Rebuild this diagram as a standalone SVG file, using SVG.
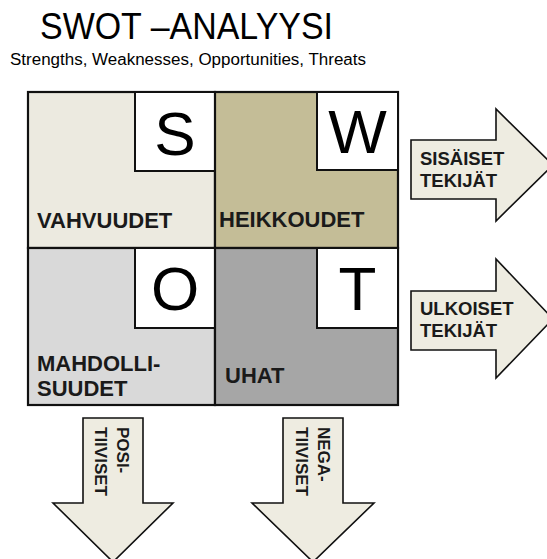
<svg xmlns="http://www.w3.org/2000/svg" width="547" height="559" viewBox="0 0 547 559">
  <style>
    .title { font-family: "Liberation Sans", Arial, sans-serif; fill: #000; }
    .lbl { font-family: "Liberation Sans", Arial, sans-serif; font-weight: bold; fill: #1a1a1a; }
    .cell { stroke: #111; stroke-width: 2.2; }
    .box { fill: #fff; stroke: #111; stroke-width: 2; }
    .letter { font-family: "Liberation Sans", Arial, sans-serif; font-size: 62px; fill: #000; text-anchor: middle; }
    .arrow { fill: #EEECE1; stroke: #111; stroke-width: 1.6; stroke-linejoin: miter; }
  </style>

  <!-- heading -->
  <g id="title">
    <text class="title" x="40" y="39" font-size="36" textLength="293" lengthAdjust="spacingAndGlyphs">SWOT –ANALYYSI</text>
    <text class="title" x="10" y="64.5" font-size="16" textLength="356" lengthAdjust="spacingAndGlyphs">Strengths, Weaknesses, Opportunities, Threats</text>
  </g>

  <!-- four quadrants -->
  <g id="strengths">
    <rect class="cell" x="28" y="92" width="187" height="156" fill="#ECEAE0"/>
    <rect class="box" x="135" y="92" width="80" height="79"/>
    <text class="letter" x="175" y="155">S</text>
    <text class="lbl" x="37" y="228" font-size="22">VAHVUUDET</text>
  </g>
  <g id="weaknesses">
    <rect class="cell" x="215" y="92" width="183" height="156" fill="#C4BD97"/>
    <rect class="box" x="317" y="92" width="81" height="78"/>
    <text class="letter" x="357.5" y="153">W</text>
    <text class="lbl" x="219" y="227" font-size="22">HEIKKOUDET</text>
  </g>
  <g id="opportunities">
    <rect class="cell" x="28" y="248" width="187" height="157" fill="#D9D9D9"/>
    <rect class="box" x="135" y="248" width="80" height="80"/>
    <text class="letter" x="175" y="310">O</text>
    <text class="lbl" x="37" y="371" font-size="22">MAHDOLLI-</text>
    <text class="lbl" x="37" y="396" font-size="22">SUUDET</text>
  </g>
  <g id="threats">
    <rect class="cell" x="215" y="248" width="183" height="157" fill="#A6A6A6"/>
    <rect class="box" x="317" y="248" width="81" height="80"/>
    <text class="letter" x="357.5" y="310">T</text>
    <text class="lbl" x="225" y="383" font-size="22">UHAT</text>
  </g>

  <!-- block arrows -->
  <g id="connectors">
    <g id="arrow-internal">
      <path class="arrow" d="M411,140 H496 V109 L553,165 L496,221 V199 H411 Z"/>
      <text class="lbl" x="420" y="165" font-size="18.5">SISÄISET</text>
      <text class="lbl" x="420" y="187" font-size="18.5">TEKIJÄT</text>
    </g>
    <g id="arrow-external">
      <path class="arrow" d="M411,291 H496 V259 L553,319 L496,378 V350 H411 Z"/>
      <text class="lbl" x="420" y="315" font-size="18.5">ULKOISET</text>
      <text class="lbl" x="420" y="337" font-size="18.5">TEKIJÄT</text>
    </g>
    <g id="arrow-positive">
      <path class="arrow" d="M83,418 H143 V503 H173 L113,562 L53,503 H83 Z"/>
      <text class="lbl" font-size="17" transform="translate(117,427) rotate(90)">POSI-</text>
      <text class="lbl" font-size="17" transform="translate(95,427) rotate(90)">TIIVISET</text>
    </g>
    <g id="arrow-negative">
      <path class="arrow" d="M283,418 H343 V503 H374 L313,562 L252,503 H283 Z"/>
      <text class="lbl" font-size="17" transform="translate(318,427) rotate(90)">NEGA-</text>
      <text class="lbl" font-size="17" transform="translate(296,427) rotate(90)">TIIVISET</text>
    </g>
  </g>
</svg>
